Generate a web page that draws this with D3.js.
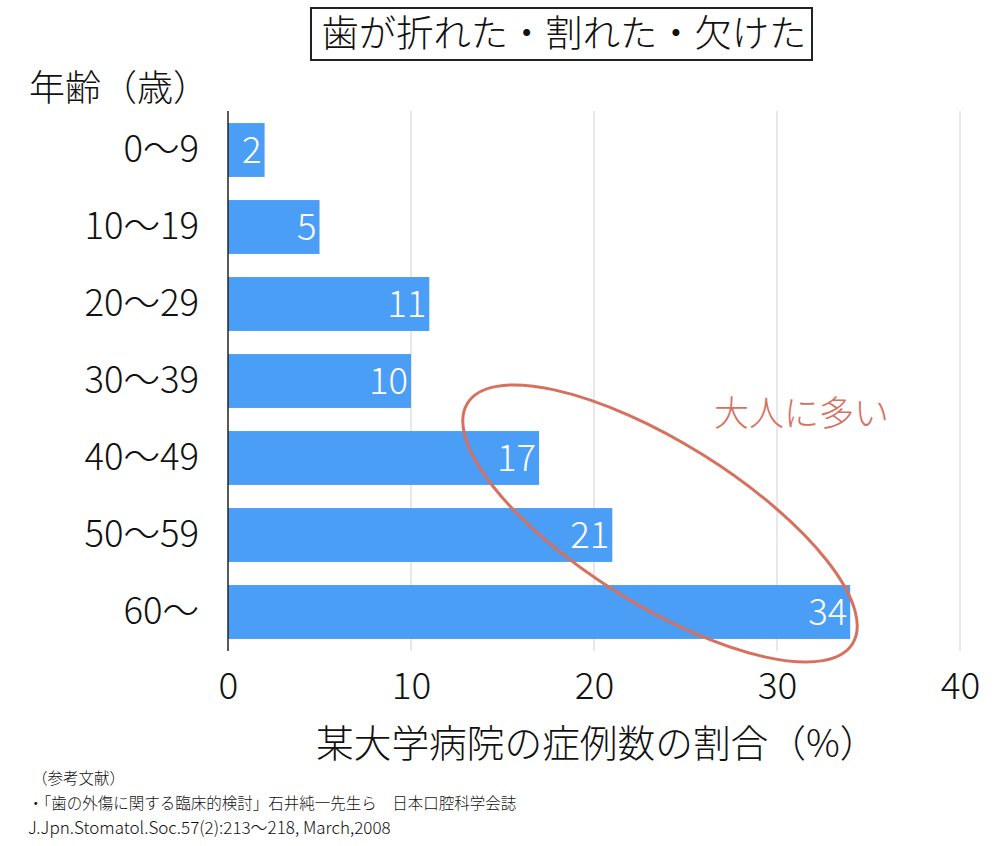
<!DOCTYPE html>
<html><head><meta charset="utf-8">
<script src="https://cdn.jsdelivr.net/npm/d3@7"></script>
<style>
html,body{margin:0;padding:0;background:#fff;}
svg{display:block;}
text{font-family:"Noto Sans CJK JP","Noto Sans",sans-serif;font-weight:300;}
</style></head>
<body>
<script>
const categories = ["0〜9","10〜19","20〜29","30〜39","40〜49","50〜59","60〜"];
const values = [2,5,11,10,17,21,34];
const xTicks = [0,10,20,30,40];
const title = "歯が折れた・割れた・欠けた";
const yTitle = "年齢（歳）";
const xTitle = "某大学病院の症例数の割合（%）";
const note = "大人に多い";
const refs = ["（参考文献）","・「歯の外傷に関する臨床的検討」石井純一先生ら　日本口腔科学会誌","J.Jpn.Stomatol.Soc.57(2):213〜218, March,2008"];

const W=1000,H=846;
const svg=d3.select("body").append("svg").attr("width",W).attr("height",H);

const x=d3.scaleLinear().domain([0,40]).range([228,960]);
const y=d3.scaleBand().domain(categories).range([111.5,650.5]).paddingInner(0.3).paddingOuter(0.15);

// grid
svg.append("g").selectAll("line").data(xTicks.filter(d=>d>0)).join("line")
 .attr("x1",d=>x(d)).attr("x2",d=>x(d)).attr("y1",111).attr("y2",651)
 .attr("stroke","#d0d0d0").attr("stroke-width",1);

// bars
svg.append("g").selectAll("rect").data(values).join("rect")
 .attr("x",x(0)).attr("y",(d,i)=>y(categories[i]))
 .attr("width",d=>x(d)-x(0)).attr("height",y.bandwidth())
 .attr("fill","#4a9ef5");

// value labels
svg.append("g").selectAll("text").data(values).join("text")
 .attr("x",d=>x(d)-3).attr("y",(d,i)=>y(categories[i])+y.bandwidth()/2)
 .attr("dy","0.36em").attr("text-anchor","end").attr("fill","#fff")
 .attr("font-size",36.5).text(d=>d);

// axis line
svg.append("line").attr("x1",x(0)).attr("x2",x(0)).attr("y1",111).attr("y2",651)
 .attr("stroke","#222").attr("stroke-width",1.5);

// y category labels
const yAxis=d3.axisLeft(y).tickSize(0).tickPadding(29);
const gy=svg.append("g").attr("transform",`translate(${x(0)},0)`).call(yAxis);
gy.select(".domain").remove();
gy.selectAll("text").attr("font-size",36.5).attr("fill","#111")
 .style("font-family",'"Noto Sans CJK JP",sans-serif').style("font-weight",300);

// x tick labels
const xAxis=d3.axisBottom(x).tickValues(xTicks).tickSize(0).tickPadding(0);
const gx=svg.append("g").attr("transform","translate(0,686)").call(xAxis);
gx.select(".domain").remove();
gx.selectAll("text").attr("font-size",37).attr("fill","#111").attr("dy","0.36em")
 .style("font-family",'"Noto Sans CJK JP",sans-serif').style("font-weight",300);

// title box
svg.append("rect").attr("x",311).attr("y",8).attr("width",501).attr("height",52)
 .attr("fill","#fff").attr("stroke","#222").attr("stroke-width",2);
svg.append("text").attr("x",564).attr("y",34).attr("dy","0.36em")
 .attr("text-anchor","middle").attr("font-size",37.3).attr("fill","#111").text(title);

svg.append("text").attr("x",29).attr("y",88).attr("dy","0.36em")
 .attr("font-size",36).attr("fill","#111").text(yTitle);

svg.append("text").attr("x",316).attr("y",743).attr("dy","0.36em")
 .attr("text-anchor","start").attr("font-size",37.7).attr("fill","#111").text(xTitle);

// ellipse
svg.append("ellipse").attr("cx",660).attr("cy",523.5).attr("rx",227).attr("ry",81)
 .attr("transform","rotate(32,660,523.5)")
 .attr("fill","none").attr("stroke","#d7705f").attr("stroke-width",3);
svg.append("text").attr("x",714).attr("y",413).attr("dy","0.36em")
 .attr("font-size",35).attr("fill","#d7705f").text(note);

// refs
svg.append("g").selectAll("text").data(refs).join("text")
 .attr("x",(d,i)=>[32,28,28][i]).attr("y",(d,i)=>778+i*25).attr("dy","0.36em")
 .attr("font-size",(d,i)=>i===2?17:15.5).attr("fill","#111").text(d=>d);
</script>
</body></html>
